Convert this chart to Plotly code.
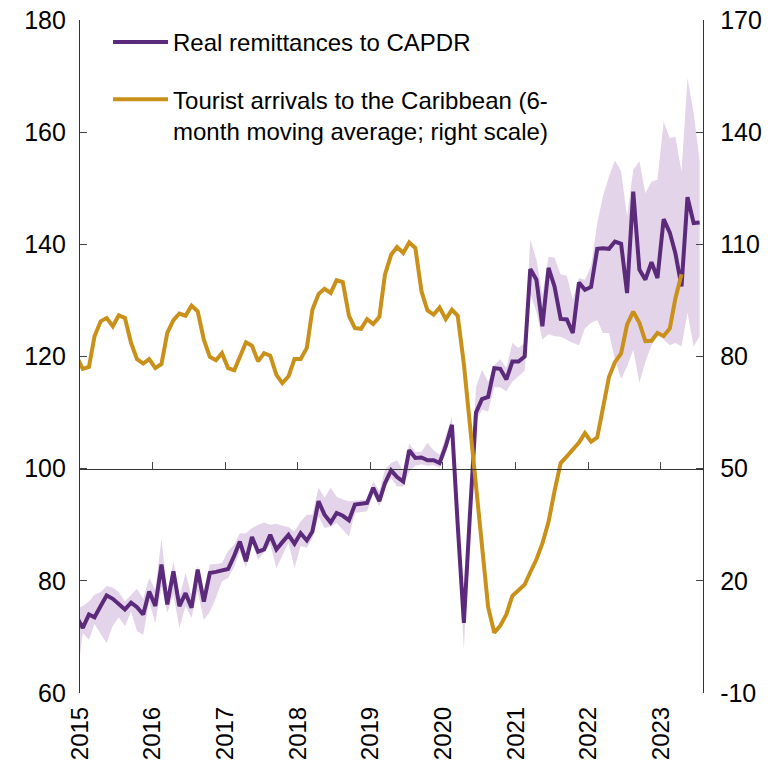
import pandas as pd
import plotly.graph_objects as go

# Monthly dates (mid-month), Dec 2014 .. Jul 2023
months = pd.date_range("2014-12-01", "2023-07-01", freq="MS") + pd.Timedelta(days=14)

remittances = [
    73.6,
    71.6, 74.0, 73.5, 75.5, 77.4, 76.8, 75.8, 74.9, 76.1, 75.3, 74.0, 78.1,
    75.5, 82.9, 75.8, 81.7, 75.5, 77.8, 75.2, 82.0, 76.3, 81.4, 81.6, 81.9,
    82.1, 84.5, 87.0, 83.5, 87.8, 85.2, 85.6, 88.2, 85.6, 86.9, 88.2, 86.6,
    88.5, 87.2, 88.8, 94.2, 91.8, 90.4, 92.1, 91.6, 90.8, 93.6, 93.7, 93.9,
    96.6, 94.2, 97.4, 99.7, 98.5, 97.7, 103.3, 101.9, 102.0, 101.5, 101.5, 101.0,
    104.0, 107.8, 90.0, 72.5, 91.5, 110.0, 112.4, 112.8, 117.9, 117.8, 115.9, 119.1,
    119.1, 120.0, 135.6, 133.7, 125.4, 135.8, 132.5, 126.7, 126.6, 124.2, 133.2, 131.9,
    132.4, 139.2, 139.3, 139.2, 140.5, 140.1, 131.3, 149.4, 135.5, 133.7, 136.8, 134.0,
    144.5, 142.1, 138.4, 132.5, 148.4, 143.8, 143.9,
]

remit_upper = [
    75.0,
    75.5, 76.3, 77.5, 78.0, 79.1, 78.8, 78.0, 76.3, 77.5, 78.6, 76.8, 80.5,
    78.4, 87.6, 77.8, 83.5, 77.0, 81.4, 77.2, 82.6, 78.0, 82.9, 83.0, 83.2,
    85.3, 86.5, 88.5, 88.5, 89.4, 90.0, 90.4, 90.0, 90.2, 89.8, 89.6, 88.8,
    90.6, 91.8, 91.8, 96.6, 94.8, 96.6, 95.0, 94.5, 94.2, 94.3, 94.4, 94.5,
    97.7, 96.0, 99.8, 101.0, 101.5, 99.5, 104.5, 103.0, 103.0, 104.6, 103.3, 102.5,
    105.8, 109.3, 91.5, 73.5, 93.0, 114.5, 117.6, 115.5, 118.5, 119.5, 118.0, 122.4,
    121.5, 122.4, 140.8, 137.3, 131.0, 137.8, 137.6, 134.6, 134.4, 130.1, 134.0, 133.7,
    136.1, 143.8, 148.5, 152.1, 155.0, 153.0, 145.0, 153.3, 154.8, 149.1, 151.2, 151.5,
    161.9, 158.9, 159.2, 153.0, 169.6, 163.4, 155.1,
]

remit_lower = [
    62.0,
    70.7, 69.5, 72.3, 70.5, 68.9, 72.0, 73.5, 71.9, 74.5, 71.0, 70.4, 76.3,
    72.5, 79.0, 74.3, 77.5, 71.6, 75.5, 73.4, 78.1, 73.0, 74.5, 77.0, 79.9,
    80.5, 82.5, 85.3, 82.3, 86.8, 83.8, 85.0, 86.5, 82.3, 84.5, 86.8, 82.3,
    86.2, 85.9, 87.6, 91.5, 89.4, 89.7, 90.3, 89.1, 87.9, 92.1, 92.3, 92.4,
    95.4, 93.3, 96.6, 98.3, 96.8, 96.8, 99.5, 100.5, 100.8, 100.5, 100.6, 100.2,
    103.0, 106.5, 88.5, 67.7, 90.0, 108.5, 110.5, 110.2, 114.5, 114.5, 113.8, 115.5,
    116.5, 117.5, 131.3, 128.0, 123.0, 124.0, 123.6, 123.5, 123.0, 122.4, 122.0, 125.0,
    126.0, 126.5, 124.2, 124.2, 119.4, 116.0, 118.2, 121.2, 115.3, 119.0, 122.0, 124.0,
    123.0, 122.0, 122.4, 121.8, 127.8, 121.8, 123.6,
]

tourists = [
    80.0,
    76.7, 77.2, 85.4, 89.4, 90.3, 88.1, 91.0, 90.3, 83.6, 79.3, 78.1, 79.3,
    76.9, 78.0, 86.3, 89.7, 91.5, 90.9, 93.6, 92.1, 84.5, 79.9, 79.0, 80.9,
    76.9, 76.3, 80.2, 83.8, 82.9, 78.7, 80.9, 80.2, 75.1, 72.9, 74.7, 79.3,
    79.3, 82.3, 92.5, 96.7, 98.1, 97.0, 100.4, 99.9, 90.9, 87.6, 87.4, 90.0,
    88.7, 90.6, 101.9, 107.2, 109.3, 107.7, 110.5, 109.0, 97.4, 92.3, 91.2, 93.1,
    90.0, 92.5, 90.9, 78.0, 62.0, 45.0, 29.0, 13.0, 6.1, 8.0, 11.0, 16.0,
    17.5, 19.0, 22.3, 25.7, 30.0, 35.8, 44.0, 51.5, 53.3, 55.0, 57.0, 59.5,
    57.2, 58.4, 66.5, 74.5, 78.5, 80.8, 88.5, 92.0, 89.0, 84.1, 84.2, 86.3,
    85.5, 87.5, 95.5, 102.0,
]

left_ticks = [60, 80, 100, 120, 140, 160, 180]
right_ticks = [-10, 20, 50, 80, 110, 140, 170]
right_labels = ["-10", "20", "50", "80", "110", "140", "170"]

PURPLE = "#5B2A7B"
GOLD = "#C9901A"
BAND = "#E4D4EA"
FONT = "Arial, Liberation Sans, sans-serif"

fig = go.Figure()

fig.add_trace(go.Scatter(x=months, y=remit_lower, mode="lines", line=dict(width=0),
                         showlegend=False, hoverinfo="skip"))
fig.add_trace(go.Scatter(x=months, y=remit_upper, mode="lines", line=dict(width=0),
                         fill="tonexty", fillcolor=BAND, showlegend=False, hoverinfo="skip"))
fig.add_trace(go.Scatter(x=months, y=remittances, mode="lines",
                         line=dict(color=PURPLE, width=4),
                         name="Real remittances to CAPDR", legendgroup="a"))
fig.add_trace(go.Scatter(x=months[:len(tourists)], y=tourists, mode="lines",
                         line=dict(color=GOLD, width=4), yaxis="y2",
                         name="Tourist arrivals to the Caribbean (6-<br>month moving average; right scale)",
                         legendgroup="b"))
# carrier for the crossing axis at 100
fig.add_trace(go.Scatter(x=[months[1]], y=[None], xaxis="x2", yaxis="y",
                         mode="lines", showlegend=False, hoverinfo="skip"))

xrange = ["2015-01-01", "2023-08-01"]

fig.update_layout(
    width=773, height=772,
    margin=dict(l=80, r=70, t=20, b=79),
    plot_bgcolor="white", paper_bgcolor="white",
    font=dict(family=FONT, size=24, color="black"),
    showlegend=True,
    legend=dict(x=0.045, y=1.0, xanchor="left", yanchor="top",
                bgcolor="rgba(0,0,0,0)", font=dict(size=24, family=FONT),
                traceorder="grouped", tracegroupgap=23, valign="top",
                itemwidth=55),
    xaxis=dict(type="date", range=xrange, showgrid=False, zeroline=False,
               showline=False, ticks="", tickformat="%Y", dtick="M12",
               tick0="2015-01-01", tickangle=-90, ticklabelstandoff=8,
               tickfont=dict(size=24, family=FONT), automargin=False,
               ticklabeloverflow="allow"),
    xaxis2=dict(type="date", range=xrange, overlaying="x", anchor="free",
                position=1/3, showline=True, linecolor="#333", linewidth=1.3,
                ticks="inside", ticklen=7, tickcolor="#444", tickwidth=1.3,
                dtick="M12", tick0="2015-01-01", showticklabels=False,
                showgrid=False, zeroline=False),
    yaxis=dict(range=[60, 180], tickvals=left_ticks, showgrid=False, zeroline=False,
               showline=True, linecolor="#333", linewidth=1.3, ticks="inside",
               ticklen=7, tickcolor="#444", tickwidth=1.3, ticklabelstandoff=8,
               tickfont=dict(size=25, family=FONT), automargin=False,
               ticklabeloverflow="allow"),
    yaxis2=dict(range=[-10, 170], tickvals=right_ticks, ticktext=right_labels,
                overlaying="y", side="right",
                showgrid=False, zeroline=False, showline=True, linecolor="#333",
                linewidth=1.3, ticks="inside", ticklen=7, tickcolor="#444",
                tickwidth=1.3, ticklabelstandoff=11,
                tickfont=dict(size=25, family=FONT), automargin=False,
                ticklabeloverflow="allow"),
)

fig.write_html(
    "out.html",
    config={"displayModeBar": False},
    post_script="document.body.style.margin='0';document.body.style.overflow='hidden';",
)
